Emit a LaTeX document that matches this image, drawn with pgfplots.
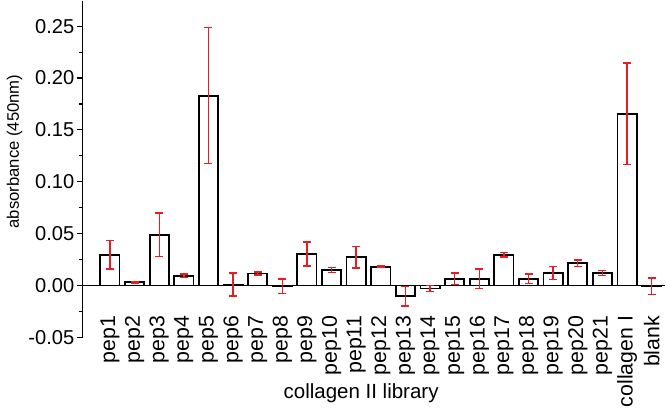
\documentclass[border=0pt]{standalone}
\usepackage{fontspec}
\setmainfont{Liberation Sans}
\usepackage{pgfplots}
\pgfplotsset{compat=1.18}
\definecolor{errred}{RGB}{230,30,36}

\begin{document}
\begin{tikzpicture}
\begin{axis}[
  scale only axis,
  width=290pt, height=167.5pt,
  xmin=-1.11, xmax=22.55,
  ymin=-0.05, ymax=0.2745,
  axis y line*=left,
  axis x line*=middle,
  hide obscured x ticks=false,
  hide obscured y ticks=false,
  axis line style={line width=0.8pt},
  ytick={-0.05,0,0.05,0.10,0.15,0.20,0.25},
  minor y tick num=1,
  tick align=outside,
  major tick length=3pt,
  minor tick length=1.6pt,
  every tick/.style={line width=0.6pt, black},
  major x tick style={draw=none},
  xtick={0,...,22},
  xticklabels={pep1,pep2,pep3,pep4,pep5,pep6,pep7,pep8,pep9,pep10,pep11,pep12,pep13,pep14,pep15,pep16,pep17,pep18,pep19,pep20,pep21,collagen I,blank},
  xticklabel style={rotate=90, anchor=east, font=\fontsize{10.6}{12}\selectfont, inner sep=0pt},
  xticklabel shift=12pt,
  yticklabel style={font=\fontsize{10}{11}\selectfont, inner sep=1pt},
  /pgf/number format/assume math mode=true,
  y tick label style={/pgf/number format/.cd, fixed, fixed zerofill, precision=2},
  ylabel={absorbance (450nm)},
  ylabel style={at={(axis description cs:-0.117,0.552)}, anchor=center, font=\fontsize{8.3}{10}\selectfont},
  xlabel={collagen II library},
  xlabel style={at={(axis description cs:0.478,-0.137)}, anchor=north, font=\fontsize{10.2}{11}\selectfont, inner sep=0pt},
  clip=false,
]
\addplot[ybar, bar width=0.78, fill=white, draw=black, line width=0.9pt,
  error bars/.cd, y dir=both, y explicit,
  error bar style={draw=errred, color=errred, line width=0.7pt},
  error mark options={rotate=90, draw=errred, color=errred, mark size=2pt, line width=0.7pt}]
  table[x=x, y=y, y error=e] {
x  y        e
0  0.0295   0.0137
1  0.0032   0.0008
2  0.0490   0.0210
3  0.0093   0.0016
4  0.1830   0.0656
5  0.0010   0.0110
6  0.0116   0.0015
7  -0.0007  0.0070
8  0.0303   0.0115
9  0.0148   0.0026
10 0.0271   0.0103
11 0.0180   0.0006
12 -0.0105  0.0095
13 -0.0030  0.0030
14 0.0064   0.0055
15 0.0064   0.0094
16 0.0294   0.0021
17 0.0064   0.0045
18 0.0119   0.0063
19 0.0216   0.0031
20 0.0119   0.0024
21 0.1657   0.0488
22 -0.0010  0.0080
};
\end{axis}
\end{tikzpicture}
\end{document}
